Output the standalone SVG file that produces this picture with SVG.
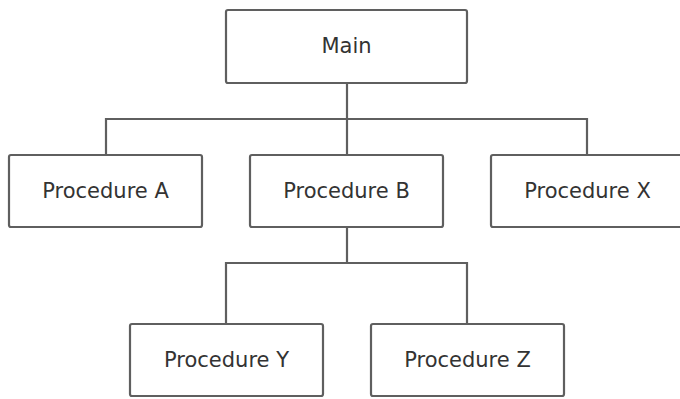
<svg xmlns="http://www.w3.org/2000/svg" width="680" height="399" viewBox="0 0 680 399">
<style>
.box{fill:#fff;stroke:#5f5f5f;stroke-width:2.2}
.lbl{font-family:"DejaVu Sans",Verdana,sans-serif;font-size:21px;fill:#333;text-anchor:middle}
.conn{fill:none;stroke:#5f5f5f;stroke-width:2.2}
</style>
<rect width="680" height="399" fill="#fff"/>
<g id="connectors">
<path class="conn" d="M347 83V119M106 155V119H587V155M347 119V155"/>
<path class="conn" d="M347 227V263M226 324V263H467V324"/>
</g>
<g id="main"><rect class="box" x="226" y="10" width="241" height="73" rx="2"/><text class="lbl" x="346.5" y="53">Main</text></g>
<g id="procA"><rect class="box" x="9" y="155" width="193" height="72" rx="2"/><text class="lbl" x="105.5" y="198">Procedure A</text></g>
<g id="procB"><rect class="box" x="250" y="155" width="193" height="72" rx="2"/><text class="lbl" x="346.5" y="198">Procedure B</text></g>
<g id="procX"><rect class="box" x="491" y="155" width="193" height="72" rx="2"/><text class="lbl" x="587.5" y="198">Procedure X</text></g>
<g id="procY"><rect class="box" x="130" y="324" width="193" height="72" rx="2"/><text class="lbl" x="226.5" y="367">Procedure Y</text></g>
<g id="procZ"><rect class="box" x="371" y="324" width="193" height="72" rx="2"/><text class="lbl" x="467.5" y="367">Procedure Z</text></g>
</svg>
